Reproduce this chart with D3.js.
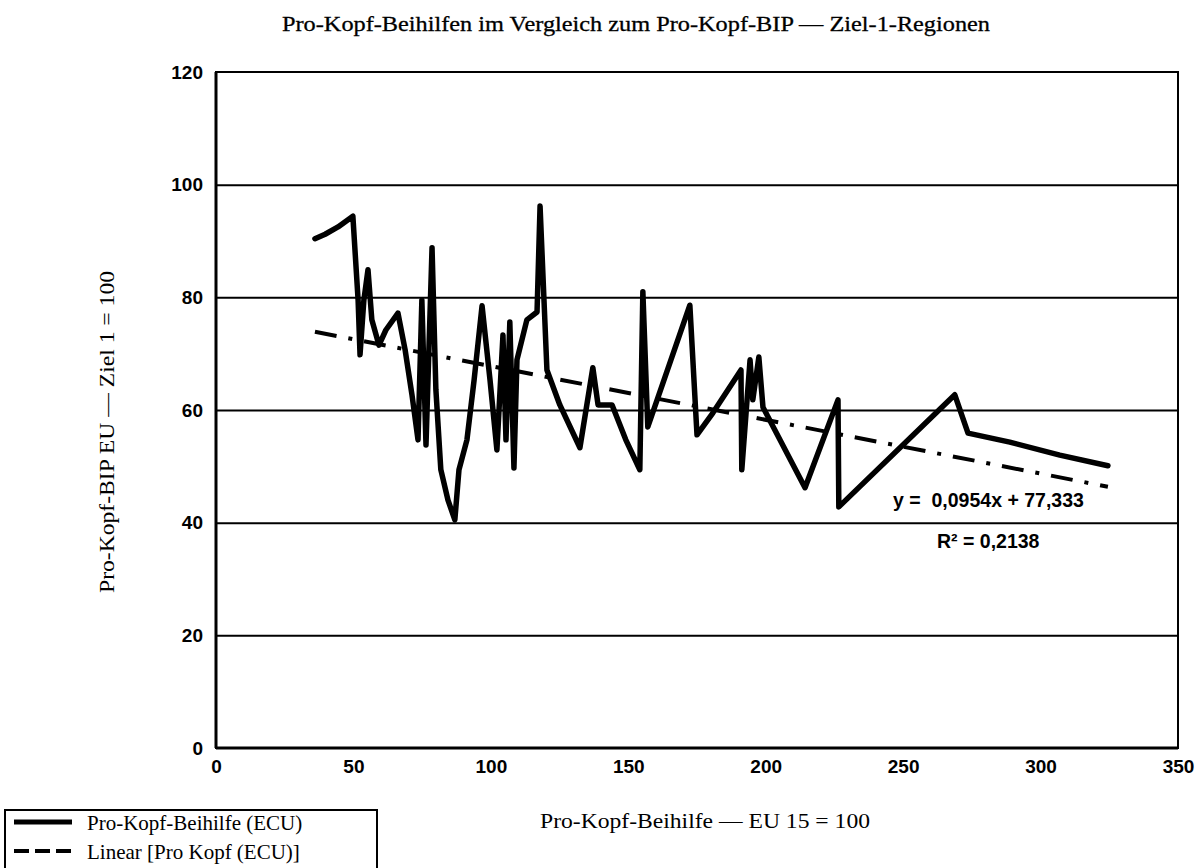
<!DOCTYPE html>
<html><head><meta charset="utf-8">
<script src="https://cdn.jsdelivr.net/npm/d3@7"></script>
<style>
html,body{margin:0;padding:0;background:#fff;}
svg{display:block;}
</style></head>
<body>
<svg id="c" width="1203" height="868"></svg>
<script>
// Data
const aidX = [36.0,39.7,44.4,49.8,51.7,52.4,53.8,55.3,56.7,59.3,61.8,66.2,68.8,71.3,73.5,74.9,76.4,78.6,80.0,81.8,84.4,86.9,88.4,91.3,93.9,96.8,99.7,102.2,104.4,105.5,106.9,108.4,109.5,113.1,116.8,117.9,120.4,125.1,132.4,137.1,139.0,144.1,149.1,154.2,155.3,157.1,172.4,175.0,180.8,191.0,191.3,194.3,195.3,197.5,199.0,214.3,226.3,226.6,268.8,273.6,288.8,307.0,324.5];
const gdpY = [90.4,91.2,92.5,94.4,79.5,69.8,79.5,84.9,76.0,71.5,74.2,77.2,70.7,62.7,54.7,79.5,53.8,88.8,63.6,49.4,44.0,40.5,49.4,54.7,65.3,78.5,65.3,52.9,73.3,54.7,75.6,49.7,68.9,76.0,77.4,96.2,67.1,60.9,53.3,67.5,60.9,60.9,54.7,49.4,81.0,57.0,78.6,55.6,59.5,67.1,49.4,68.9,61.8,69.4,60.5,46.2,61.8,42.8,62.7,55.9,54.3,52.0,50.1];
const trendSlope = -0.0954;
const trendIntercept = 77.333;
const xTicks = [0,50,100,150,200,250,300,350];
const yTicks = [0,20,40,60,80,100,120];
const titleText = "Pro-Kopf-Beihilfen im Vergleich zum Pro-Kopf-BIP — Ziel-1-Regionen";
const xTitle = "Pro-Kopf-Beihilfe — EU 15 = 100";
const yTitle = "Pro-Kopf-BIP EU — Ziel 1 = 100";
const legendLabels = ["Pro-Kopf-Beihilfe (ECU)", "Linear [Pro Kopf (ECU)]"];
const eqText = "y =  0,0954x + 77,333";
const r2Text = "R² = 0,2138";

const svg = d3.select("#c");
const L = 216, R = 1178, T = 72, B = 748;
const x = d3.scaleLinear().domain([0,350]).range([L,R]);
const y = d3.scaleLinear().domain([0,120]).range([B,T]);
const serif = "'Liberation Serif', 'Times New Roman', serif";
const sans = "'Liberation Sans', Arial, sans-serif";

// gridlines
const grid = svg.append("g").attr("transform",`translate(${L},0)`)
  .call(d3.axisLeft(y).tickValues(yTicks.filter(v=>v>0 && v<120)).tickSize(-(R-L)).tickFormat(""));
grid.select(".domain").remove();
grid.selectAll("line").attr("stroke","#000").attr("stroke-width",2);

// trend line
const xs = [aidX[0], aidX[aidX.length-1]];
svg.append("path")
  .datum(xs)
  .attr("d", d3.line().x(d=>x(d)).y(d=>y(trendIntercept + trendSlope*d)))
  .attr("fill","none").attr("stroke","#000").attr("stroke-width",4)
  .attr("stroke-dasharray","22,12,4,12");

// main series
const pts = aidX.map((v,i)=>[v,gdpY[i]]);
svg.append("path")
  .datum(pts)
  .attr("d", d3.line().x(d=>x(d[0])).y(d=>y(d[1])))
  .attr("fill","none").attr("stroke","#000").attr("stroke-width",5.5)
  .attr("stroke-linejoin","round").attr("stroke-linecap","round");

// border
svg.append("rect").attr("x",L).attr("y",T).attr("width",R-L).attr("height",B-T)
  .attr("fill","none").attr("stroke","#000").attr("stroke-width",2);
svg.append("line").attr("x1",L).attr("x2",L).attr("y1",T).attr("y2",B).attr("stroke","#000").attr("stroke-width",3);
svg.append("line").attr("x1",L).attr("x2",R).attr("y1",B).attr("y2",B).attr("stroke","#000").attr("stroke-width",3);

// axes labels
const xa = svg.append("g").attr("transform",`translate(0,${B})`)
  .call(d3.axisBottom(x).tickValues(xTicks).tickSize(0).tickPadding(12).tickFormat(d3.format("d")));
xa.select(".domain").remove();
xa.selectAll("text").attr("font-family",sans).attr("font-weight","bold").attr("font-size",19).attr("fill","#000");

const ya = svg.append("g").attr("transform",`translate(${L},0)`)
  .call(d3.axisLeft(y).tickValues(yTicks).tickSize(0).tickPadding(13).tickFormat(d3.format("d")));
ya.select(".domain").remove();
ya.selectAll("text").attr("font-family",sans).attr("font-weight","bold").attr("font-size",19).attr("fill","#000");

// titles
svg.append("text").attr("x",282).attr("y",31).attr("font-family",serif).attr("font-size",22)
  .attr("stroke","#000").attr("stroke-width",0.3)
  .attr("textLength",708).attr("lengthAdjust","spacingAndGlyphs").text(titleText);
svg.append("text").attr("x",540).attr("y",828).attr("font-family",serif).attr("font-size",21)
  .attr("textLength",330).attr("lengthAdjust","spacingAndGlyphs").text(xTitle);
svg.append("text").attr("transform","translate(114,432) rotate(-90)").attr("text-anchor","middle")
  .attr("font-family",serif).attr("font-size",21)
  .attr("textLength",322).attr("lengthAdjust","spacingAndGlyphs").text(yTitle);

// equation
svg.append("text").attr("x",893).attr("y",507).attr("font-family",sans).attr("font-weight","bold").attr("font-size",19.5).attr("xml:space","preserve").text(eqText);
svg.append("text").attr("x",937).attr("y",548).attr("font-family",sans).attr("font-weight","bold").attr("font-size",19.5).text(r2Text);

// legend
svg.append("rect").attr("x",5).attr("y",810).attr("width",372).attr("height",80)
  .attr("fill","#fff").attr("stroke","#000").attr("stroke-width",2);
svg.append("line").attr("x1",14).attr("x2",72).attr("y1",822).attr("y2",822).attr("stroke","#000").attr("stroke-width",5);
svg.append("line").attr("x1",14).attr("x2",72).attr("y1",851).attr("y2",851).attr("stroke","#000").attr("stroke-width",4).attr("stroke-dasharray","15,6");
svg.append("text").attr("x",87).attr("y",830).attr("font-family",serif).attr("font-size",21).text(legendLabels[0]);
svg.append("text").attr("x",87).attr("y",859).attr("font-family",serif).attr("font-size",21).text(legendLabels[1]);
</script>
</body></html>
